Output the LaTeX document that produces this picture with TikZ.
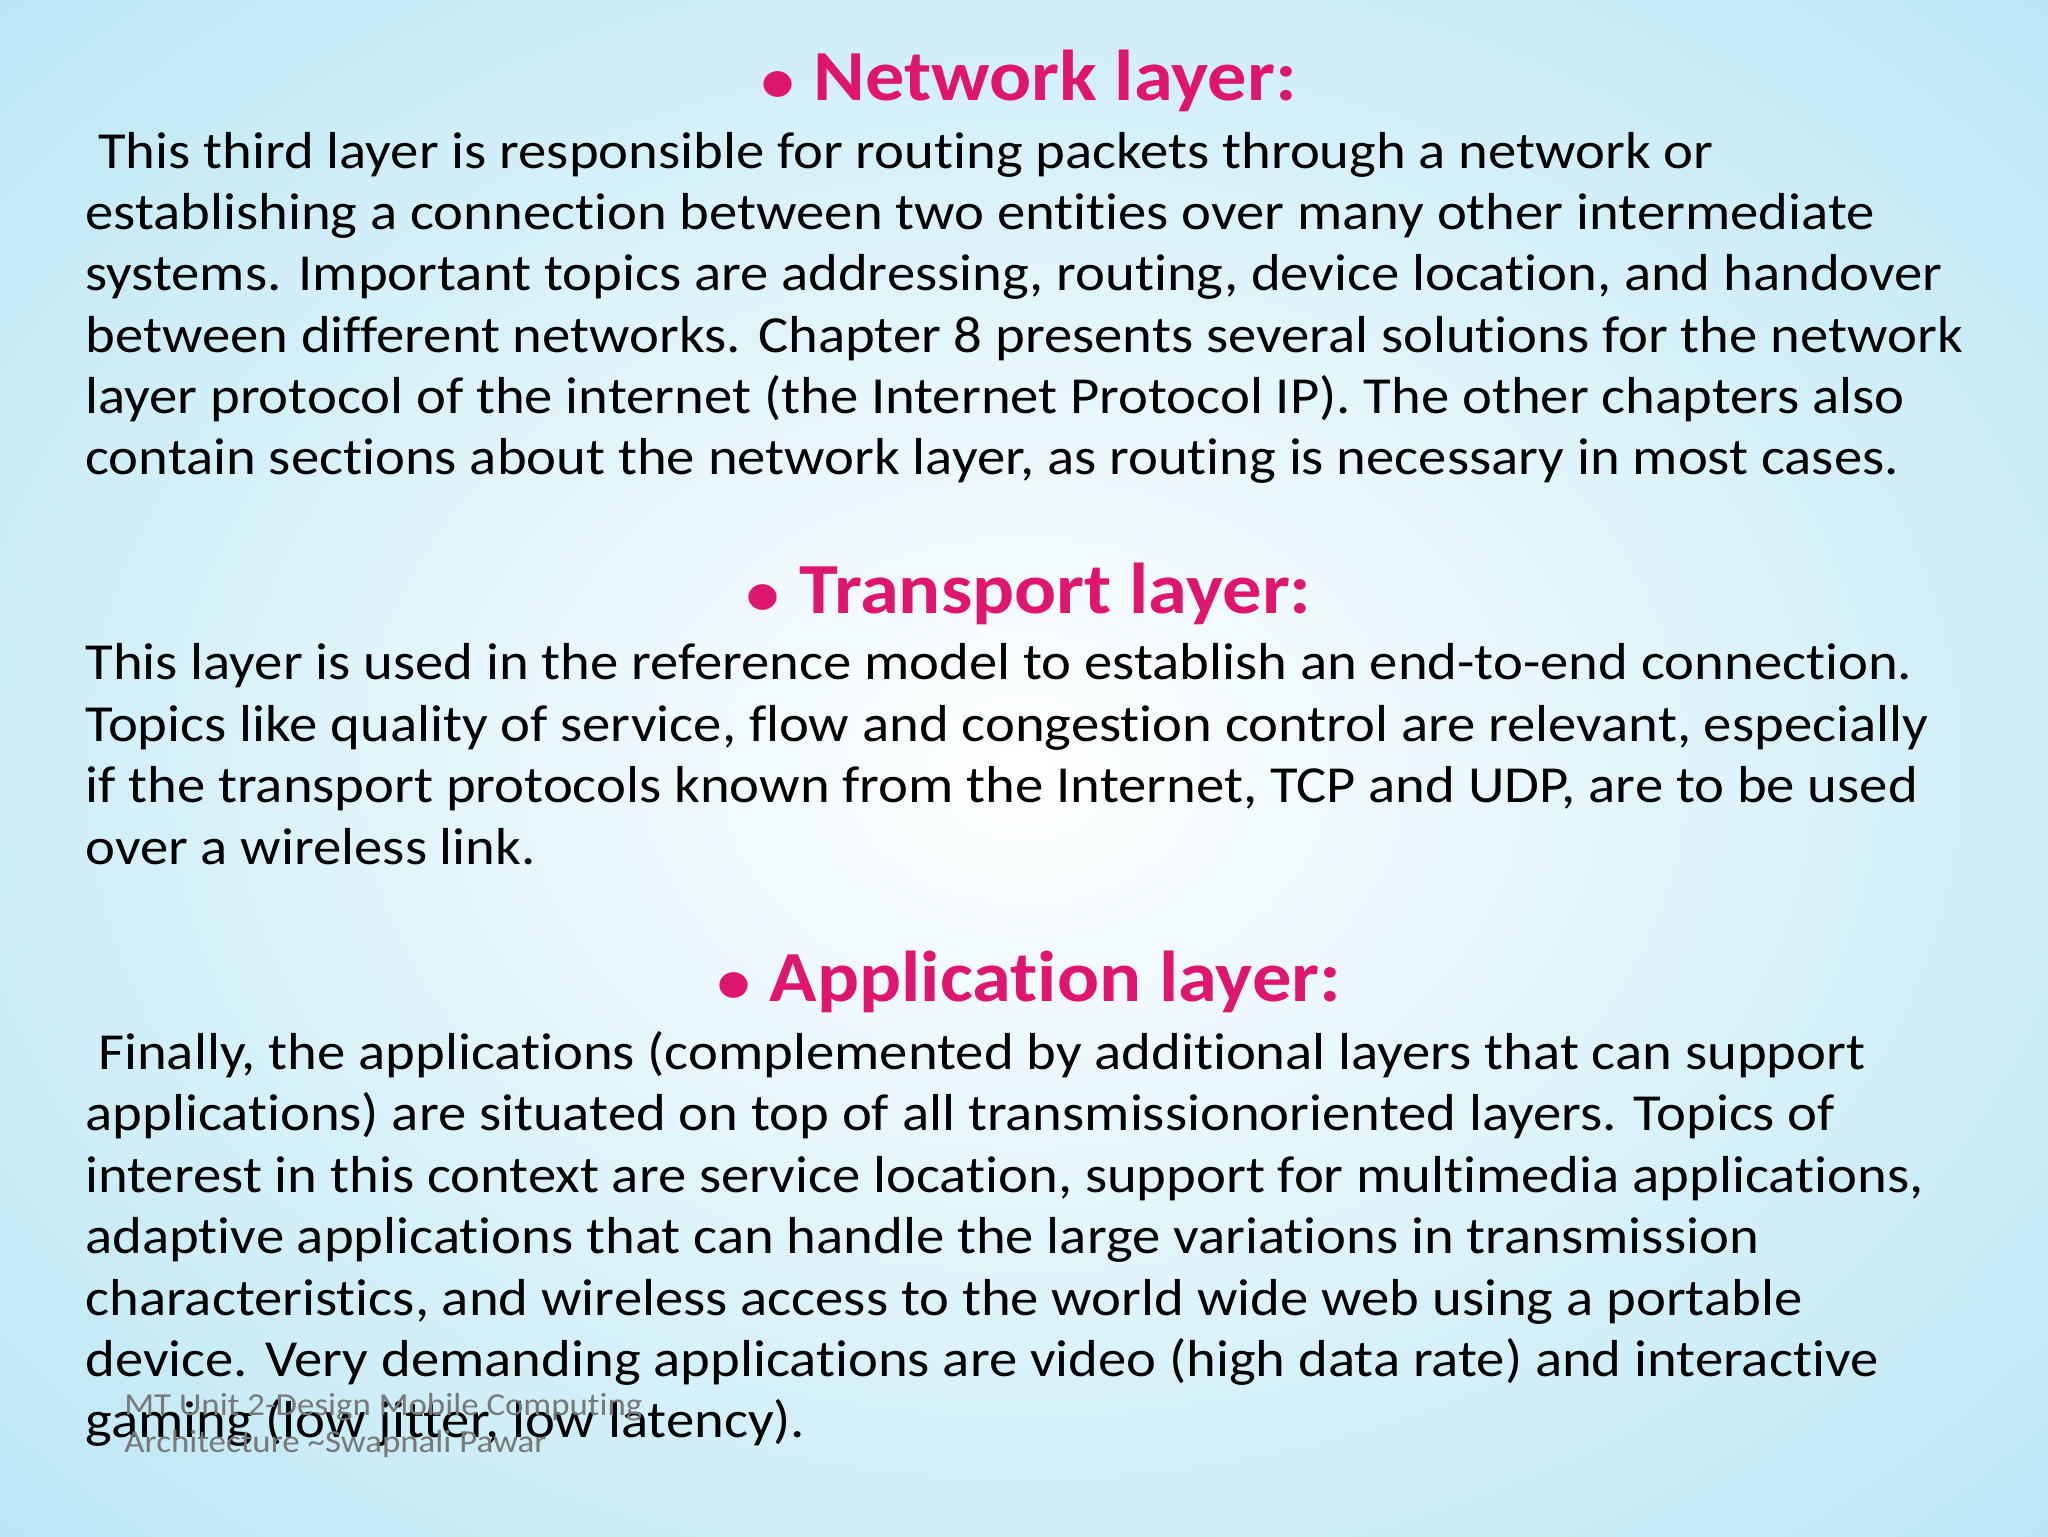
\documentclass[tikz,border=0pt]{standalone}
\usepackage{fontspec}
\setmainfont{Carlito}[Ligatures={NoCommon,TeX},FakeStretch=1.09]
\newfontfamily\dejavu{DejaVu Sans}
\definecolor{headpink}{RGB}{222,22,112}
\definecolor{bgblue}{RGB}{185,230,244}
\definecolor{foot}{RGB}{120,120,120}
\newcommand{\hbul}{{\dejavu\normalfont\fontsize{28}{30}\selectfont ●}}
\begin{document}
\begin{tikzpicture}[x=0.5pt,y=-0.5pt,
  body/.style={anchor=base west,inner sep=0pt,font=\fontsize{26}{31}\selectfont},
  head/.style={anchor=base,inner sep=0pt,text=headpink,font=\fontsize{36}{42}\selectfont\bfseries},
  foottxt/.style={anchor=base west,inner sep=0pt,text=foot,font=\fontsize{16}{19}\selectfont}]
\useasboundingbox (0,0) rectangle (2048,1536);
\shade[inner color=white,outer color=bgblue] (-450,-350) rectangle (2498,1886);
\node[head] (h1) at (1028,101) {\hbul\ Network layer:};
\node[body] (n1) at (85,168) {\ This third layer is responsible for routing packets through a network or};
\node[body] (n2) at (85,229) {establishing a connection between two entities over many other intermediate};
\node[body] (n3) at (85,290) {systems. Important topics are addressing, routing, device location, and handover};
\node[body] (n4) at (85,352) {between different networks. Chapter 8 presents several solutions for the network};
\node[body] (n5) at (85,413) {layer protocol of the internet (the Internet Protocol IP). The other chapters also};
\node[body] (n6) at (85,474) {contain sections about the network layer, as routing is necessary in most cases.};
\node[head] (h2) at (1028,613) {\hbul\ Transport layer:};
\node[body] (t1) at (85,679) {This layer is used in the reference model to establish an end-to-end connection.};
\node[body] (t2) at (85,741) {Topics like quality of service, flow and congestion control are relevant, especially};
\node[body] (t3) at (85,802) {if the transport protocols known from the Internet, TCP and UDP, are to be used};
\node[body] (t4) at (85,864) {over a wireless link.};
\node[head] (h3) at (1028,1001) {\hbul\ Application layer:};
\node[body] (a1) at (85,1069) {\ Finally, the applications (complemented by additional layers that can support};
\node[body] (a2) at (85,1130) {applications) are situated on top of all transmissionoriented layers. Topics of};
\node[body] (a3) at (85,1192) {interest in this context are service location, support for multimedia applications,};
\node[body] (a4) at (85,1253) {adaptive applications that can handle the large variations in transmission};
\node[body] (a5) at (85,1315) {characteristics, and wireless access to the world wide web using a portable};
\node[body] (a6) at (85,1376) {device. Very demanding applications are video (high data rate) and interactive};
\node[body] (a7) at (85,1437) {gaming (low jitter, low latency).};
\node[foottxt] (f1) at (124,1415) {MT Unit 2-Design Mobile Computing};
\node[foottxt] (f2) at (124,1452) {Architecture \textasciitilde Swapnali Pawar};
\end{tikzpicture}
\end{document}
